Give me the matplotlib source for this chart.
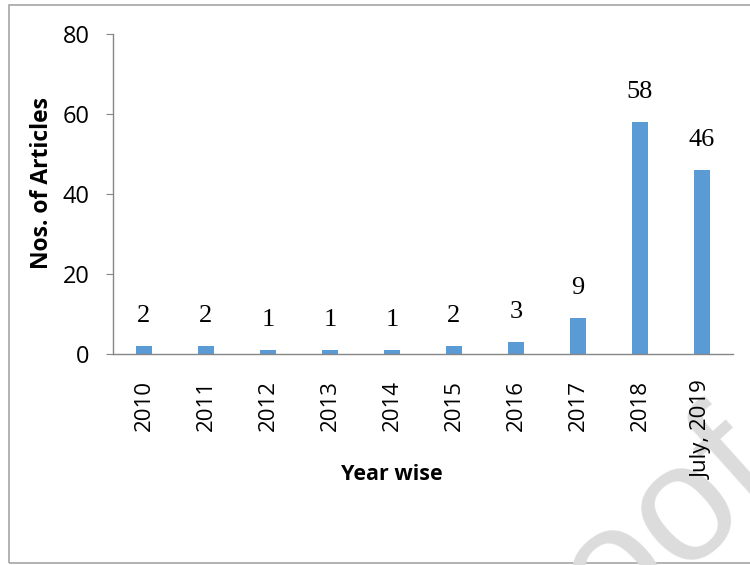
import numpy as np
import matplotlib.pyplot as plt
from matplotlib.patches import Rectangle

years = ['2010', '2011', '2012', '2013', '2014', '2015', '2016', '2017', '2018', 'July, 2019']
articles = [2, 2, 1, 1, 1, 2, 3, 9, 58, 46]

W, H = 750, 565
fig = plt.figure(figsize=(7.5, 5.65), dpi=100)

# outer chart border (right side runs off the picture)
fig.patches.append(Rectangle((9 / W, 1 - 563 / H), 1.0, (563 - 5) / H,
                             transform=fig.transFigure, fill=False,
                             ec='#a6a6a6', lw=1.2, zorder=-2))

# faint watermark in the lower right corner
fig.text(785 / W, 1 - 485 / H, 'Journal Pre-proof', fontsize=120, color='#dcdcdc',
         family='Liberation Sans', ha='right', va='baseline',
         rotation=42, rotation_mode='anchor', zorder=-1)

ax = fig.add_axes([113 / W, 1 - 354 / H, (733 - 113) / W, (354 - 34) / H])
ax.patch.set_alpha(0)

x = np.arange(len(years))
ax.bar(x, articles, width=0.26, color='#5b9bd5')
for xi, v in zip(x, articles):
    ax.annotate(str(v), (xi, v), xytext=(0, 14), textcoords='offset points',
                ha='center', va='bottom', fontsize=19, family='Liberation Serif')

ax.set_xlim(-0.5, len(years) - 0.5)
ax.set_ylim(0, 80)
ax.set_yticks([0, 20, 40, 60, 80])
ax.set_xticks(x)
ax.set_xticklabels(years, rotation=90, ha='center', va='top')

for s in ['top', 'right']:
    ax.spines[s].set_visible(False)
for s in ['left', 'bottom']:
    ax.spines[s].set_color('#868686')
    ax.spines[s].set_linewidth(1.0)

ax.tick_params(axis='y', length=5, color='#868686', pad=12, labelsize=17)
ax.tick_params(axis='x', length=0, pad=19, labelsize=16)
for lab in ax.get_xticklabels() + ax.get_yticklabels():
    lab.set_family('Open Sans')

fig.text(42 / W, 1 - 183 / H, 'Nos. of Articles', rotation=90, fontsize=16.5,
         fontweight='bold', family='Open Sans', ha='center', va='center')
fig.text(392 / W, 1 - 475 / H, 'Year wise', fontsize=15.5, fontweight='bold',
         family='Open Sans', ha='center', va='center')

fig.savefig('out.png', dpi=100)
